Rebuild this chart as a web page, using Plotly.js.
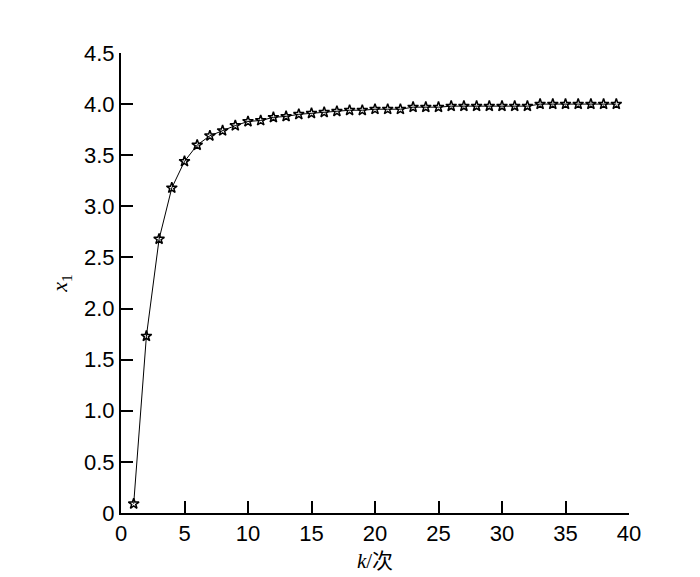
<!DOCTYPE html>
<html>
<head>
<meta charset="utf-8">
<script src="https://cdn.plot.ly/plotly-3.0.1.min.js"></script>
<style>html,body{margin:0;padding:0;background:#fff;}#chart{width:700px;height:577px;}</style>
</head>
<body>
<div id="chart"></div>
<script>
const kValues = [1,2,3,4,5,6,7,8,9,10,11,12,13,14,15,16,17,18,19,20,21,22,23,24,25,26,27,28,29,30,31,32,33,34,35,36,37,38,39];
const x1Values = [0.09,1.73,2.68,3.18,3.44,3.60,3.69,3.74,3.79,3.83,3.84,3.87,3.88,3.90,3.91,3.92,3.93,3.94,3.94,3.95,3.95,3.95,3.97,3.97,3.97,3.98,3.98,3.98,3.98,3.98,3.98,3.98,4.0,4.0,4.0,4.0,4.0,4.0,4.0];
const yTickVals = [0,0.5,1.0,1.5,2.0,2.5,3.0,3.5,4.0,4.5];
const yTickText = ['0','0.5','1.0','1.5','2.0','2.5','3.0','3.5','4.0','4.5'];
const xTickVals = [0,5,10,15,20,25,30,35,40];

const trace = {
  x: kValues, y: x1Values, type: 'scatter', mode: 'lines+markers',
  line: {color: '#000', width: 1},
  marker: {symbol: 'star-open', size: 8, color: '#000', line: {width: 1.5, color: '#000'}}
};
const tickFont = {family: 'Liberation Sans, Arial, sans-serif', size: 22, color: '#000'};
const layout = {
  width: 700, height: 577,
  margin: {l: 120.5, r: 71, t: 53, b: 64},
  paper_bgcolor: '#fff', plot_bgcolor: '#fff',
  showlegend: false,
  xaxis: {
    range: [0, 40], tickvals: xTickVals, ticks: 'inside', ticklen: 12, tickwidth: 2, tickcolor: '#000',
    showline: true, linecolor: '#000', linewidth: 2, showgrid: false, zeroline: false, mirror: false,
    tickfont: tickFont,
    title: {text: '<i>k</i>/次', font: {family: 'Liberation Serif, Noto Sans CJK SC, serif', size: 21, color: '#000'}, standoff: 8}
  },
  yaxis: {
    range: [0, 4.5], tickvals: yTickVals, ticktext: yTickText, ticks: 'inside', ticklen: 12, tickwidth: 2, tickcolor: '#000',
    showline: true, linecolor: '#000', linewidth: 2, showgrid: false, zeroline: false, mirror: false,
    tickfont: tickFont,
    title: {text: '<i>x</i><sub>1</sub>', font: {family: 'Liberation Serif, serif', size: 22, color: '#000'}, standoff: 10}
  }
};
Plotly.newPlot('chart', [trace], layout, {displayModeBar: false, staticPlot: true});
</script>
</body>
</html>
